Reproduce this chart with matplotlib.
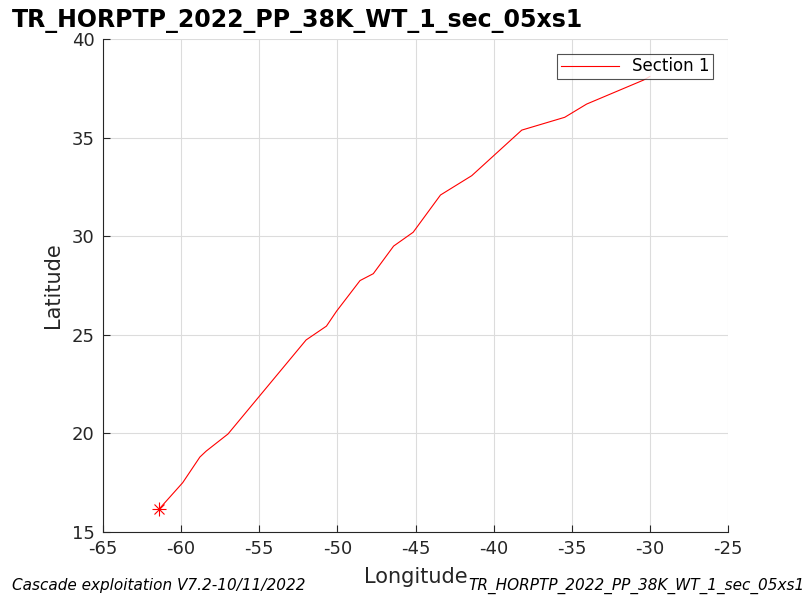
import matplotlib
matplotlib.use('Agg')
import matplotlib.pyplot as plt

# section track
lon = [-61.4, -59.9, -58.8, -58.4, -57.0, -52.0, -50.7, -50.05, -48.55,
       -47.7, -46.4, -45.15, -43.4, -41.4, -38.2, -35.45, -34.05, -30.4, -30.0]
lat = [16.17, 17.5, 18.8, 19.1, 19.97, 24.74, 25.44, 26.2, 27.75,
       28.1, 29.5, 30.2, 32.09, 33.07, 35.38, 36.03, 36.7, 37.92, 38.1]
xticks = [-65, -60, -55, -50, -45, -40, -35, -30, -25]
yticks = [15, 20, 25, 30, 35, 40]
title = 'TR_HORPTP_2022_PP_38K_WT_1_sec_05xs1'
footer_left = 'Cascade exploitation V7.2-10/11/2022'

matplotlib.rcParams.update({'font.family': 'DejaVu Sans', 'axes.unicode_minus': False})
fig = plt.figure(figsize=(8.09, 6.01), dpi=100)
ax = fig.add_axes([0.1273, 0.1148, 0.7726, 0.8203])

ax.plot(lon, lat, color='red', linewidth=0.8, label='Section 1')
# asterisk start marker (plus + cross)
ax.plot(lon[0], lat[0], marker='+', color='red', markersize=10, markeredgewidth=0.8,
        linestyle='none')
ax.plot(lon[0], lat[0], marker='x', color='red', markersize=7, markeredgewidth=0.8,
        linestyle='none')

ax.set_xlim(-65, -25)
ax.set_ylim(15, 40)
ax.set_xticks(xticks)
ax.set_yticks(yticks)
ax.tick_params(direction='in', labelsize=13, colors='#262626', length=5,
               width=0.8, pad=6)
ax.grid(True, color='#dcdcdc', linewidth=0.8)
ax.set_axisbelow(True)
for s in ['top', 'right']:
    ax.spines[s].set_visible(False)
for s in ['left', 'bottom']:
    ax.spines[s].set_color('#262626')
    ax.spines[s].set_linewidth(0.8)

ax.set_xlabel('Longitude', fontsize=15, color='#262626', labelpad=6)
ax.set_ylabel('Latitude', fontsize=15, color='#262626', labelpad=6)

leg = ax.legend(loc='upper right', fontsize=12, frameon=True, fancybox=False,
                borderaxespad=0.9, handlelength=3.5, borderpad=0.2)
leg.get_frame().set_edgecolor('#262626')
leg.get_frame().set_linewidth(0.8)

fig.text(0.015, 0.965, title, fontsize=17, fontweight='bold', ha='left', va='center')
fig.text(0.015, 0.025, footer_left, fontsize=11, style='italic', ha='left', va='center')
fig.text(0.995, 0.025, title, fontsize=11, style='italic', ha='right', va='center')

fig.savefig('out.png', dpi=100)
